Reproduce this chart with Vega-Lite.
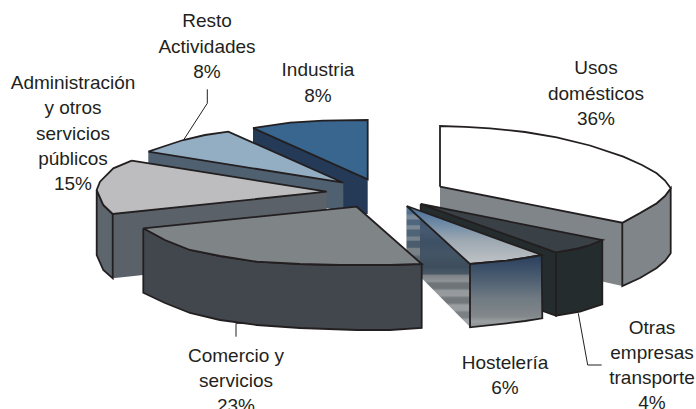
{
"$schema":"https://vega.github.io/schema/vega-lite/v6.json",
"width":696,"height":409,"padding":0,"autosize":{"type":"none"},
"background":"white",
"config":{"view":{"stroke":null}},
"resolve":{"scale":{"fill":"independent","stroke":"independent"}},
"datasets":{
"atras":[
{"f":"usos_frente","i":1,"x":440,"y":186.7},{"f":"usos_frente","i":2,"x":622.3,"y":222.7},{"f":"usos_frente","i":3,"x":622.3,"y":286},{"f":"usos_frente","i":4,"x":600,"y":281},{"f":"usos_frente","i":5,"x":440,"y":250},{"f":"usos_frente","i":6,"x":440,"y":186.7},
{"f":"usos_curva","i":1,"x":622.3,"y":222.7},{"f":"usos_curva","i":2,"x":640,"y":213},{"f":"usos_curva","i":3,"x":656.7,"y":203.3},{"f":"usos_curva","i":4,"x":665,"y":196},{"f":"usos_curva","i":5,"x":670.7,"y":188.3},{"f":"usos_curva","i":6,"x":670.7,"y":253.3},{"f":"usos_curva","i":7,"x":665,"y":261},{"f":"usos_curva","i":8,"x":656.7,"y":268},{"f":"usos_curva","i":9,"x":640,"y":278},{"f":"usos_curva","i":10,"x":622.3,"y":286},{"f":"usos_curva","i":11,"x":622.3,"y":222.7},
{"f":"usos_tapa","i":1,"x":440,"y":186.7},{"f":"usos_tapa","i":2,"x":440,"y":126},{"f":"usos_tapa","i":3,"x":465,"y":126.8},{"f":"usos_tapa","i":4,"x":490,"y":128.3},{"f":"usos_tapa","i":5,"x":525,"y":132},{"f":"usos_tapa","i":6,"x":556.7,"y":137.3},{"f":"usos_tapa","i":7,"x":590,"y":145.5},{"f":"usos_tapa","i":8,"x":623.3,"y":156.7},{"f":"usos_tapa","i":9,"x":642,"y":165},{"f":"usos_tapa","i":10,"x":656.7,"y":173.3},{"f":"usos_tapa","i":11,"x":665,"y":180.5},{"f":"usos_tapa","i":12,"x":670.7,"y":188.3},{"f":"usos_tapa","i":13,"x":665,"y":196},{"f":"usos_tapa","i":14,"x":656.7,"y":203.3},{"f":"usos_tapa","i":15,"x":640,"y":213},{"f":"usos_tapa","i":16,"x":622.3,"y":222.7},{"f":"usos_tapa","i":17,"x":440,"y":186.7},
{"f":"industria_lado","i":1,"x":253,"y":128},{"f":"industria_lado","i":2,"x":367.7,"y":179.3},{"f":"industria_lado","i":3,"x":367.7,"y":214},{"f":"industria_lado","i":4,"x":343,"y":214},{"f":"industria_lado","i":5,"x":253,"y":146},{"f":"industria_lado","i":6,"x":253,"y":128},
{"f":"industria_tapa","i":1,"x":253,"y":128},{"f":"industria_tapa","i":2,"x":290,"y":122.7},{"f":"industria_tapa","i":3,"x":323,"y":120.7},{"f":"industria_tapa","i":4,"x":367.7,"y":120},{"f":"industria_tapa","i":5,"x":367.7,"y":179.3},{"f":"industria_tapa","i":6,"x":253,"y":128},
{"f":"resto_lado","i":1,"x":148.3,"y":151.7},{"f":"resto_lado","i":2,"x":343.3,"y":182.7},{"f":"resto_lado","i":3,"x":343.3,"y":212},{"f":"resto_lado","i":4,"x":148.3,"y":165},{"f":"resto_lado","i":5,"x":148.3,"y":151.7},
{"f":"resto_tapa","i":1,"x":148.3,"y":151.7},{"f":"resto_tapa","i":2,"x":165,"y":146},{"f":"resto_tapa","i":3,"x":183.3,"y":140},{"f":"resto_tapa","i":4,"x":205,"y":135},{"f":"resto_tapa","i":5,"x":228.3,"y":131.7},{"f":"resto_tapa","i":6,"x":343.3,"y":182.7},{"f":"resto_tapa","i":7,"x":148.3,"y":151.7},
{"f":"admin_frente","i":1,"x":112.7,"y":214},{"f":"admin_frente","i":2,"x":326.7,"y":191.7},{"f":"admin_frente","i":3,"x":326.7,"y":215},{"f":"admin_frente","i":4,"x":143,"y":275},{"f":"admin_frente","i":5,"x":112.7,"y":278.3},{"f":"admin_frente","i":6,"x":112.7,"y":214},
{"f":"admin_curva","i":1,"x":112.7,"y":214},{"f":"admin_curva","i":2,"x":103.3,"y":205},{"f":"admin_curva","i":3,"x":96.7,"y":190},{"f":"admin_curva","i":4,"x":96.7,"y":255},{"f":"admin_curva","i":5,"x":103.3,"y":270},{"f":"admin_curva","i":6,"x":112.7,"y":278.3},{"f":"admin_curva","i":7,"x":112.7,"y":214},
{"f":"admin_tapa","i":1,"x":131.7,"y":160.7},{"f":"admin_tapa","i":2,"x":113.3,"y":168.3},{"f":"admin_tapa","i":3,"x":100,"y":181.7},{"f":"admin_tapa","i":4,"x":96.7,"y":190},{"f":"admin_tapa","i":5,"x":103.3,"y":205},{"f":"admin_tapa","i":6,"x":112.7,"y":214},{"f":"admin_tapa","i":7,"x":326.7,"y":191.7},{"f":"admin_tapa","i":8,"x":131.7,"y":160.7},
{"f":"otras_lado","i":1,"x":420.7,"y":204},{"f":"otras_lado","i":2,"x":556,"y":252.3},{"f":"otras_lado","i":3,"x":556,"y":315.7},{"f":"otras_lado","i":4,"x":542.7,"y":311},{"f":"otras_lado","i":5,"x":420.7,"y":230},{"f":"otras_lado","i":6,"x":420.7,"y":204},
{"f":"otras_frente","i":1,"x":556,"y":252.3},{"f":"otras_frente","i":2,"x":580,"y":248.3},{"f":"otras_frente","i":3,"x":602.3,"y":240},{"f":"otras_frente","i":4,"x":602.3,"y":304.3},{"f":"otras_frente","i":5,"x":580,"y":311.7},{"f":"otras_frente","i":6,"x":556,"y":315.7},{"f":"otras_frente","i":7,"x":556,"y":252.3},
{"f":"otras_tapa","i":1,"x":420.7,"y":204},{"f":"otras_tapa","i":2,"x":602.3,"y":240},{"f":"otras_tapa","i":3,"x":590,"y":245},{"f":"otras_tapa","i":4,"x":575,"y":249},{"f":"otras_tapa","i":5,"x":556,"y":252.3},{"f":"otras_tapa","i":6,"x":420.7,"y":204}
],
"hosteleria_lado":[
{"i":1,"x":406.7,"y":206},{"i":2,"x":470,"y":264},{"i":3,"x":470,"y":327},{"i":4,"x":406.7,"y":263},{"i":5,"x":406.7,"y":206}
],
"hosteleria_franja":[
{"i":1,"x":406.7,"y":206},{"i":2,"x":420,"y":218},{"i":3,"x":420,"y":277},{"i":4,"x":406.7,"y":263},{"i":5,"x":406.7,"y":206}
],
"hosteleria_tapa":[
{"i":1,"x":406.7,"y":206},{"i":2,"x":541.7,"y":255},{"i":3,"x":525,"y":258},{"i":4,"x":506.7,"y":260.7},{"i":5,"x":470,"y":264},{"i":6,"x":406.7,"y":206}
],
"hosteleria_frente":[
{"i":1,"x":470,"y":264},{"i":2,"x":506.7,"y":260.7},{"i":3,"x":525,"y":258},{"i":4,"x":541.7,"y":255},{"i":5,"x":542.3,"y":318.3},{"i":6,"x":525,"y":321},{"i":7,"x":506.7,"y":323.3},{"i":8,"x":470,"y":327.3},{"i":9,"x":470,"y":264}
],
"delante":[
{"f":"comercio_lado","i":1,"x":143.3,"y":228.3},{"f":"comercio_lado","i":2,"x":165,"y":240},{"f":"comercio_lado","i":3,"x":190,"y":250},{"f":"comercio_lado","i":4,"x":220,"y":256},{"f":"comercio_lado","i":5,"x":256.7,"y":261.7},{"f":"comercio_lado","i":6,"x":300,"y":264},{"f":"comercio_lado","i":7,"x":340,"y":265},{"f":"comercio_lado","i":8,"x":390,"y":265},{"f":"comercio_lado","i":9,"x":421.7,"y":264},{"f":"comercio_lado","i":10,"x":421.7,"y":328},{"f":"comercio_lado","i":11,"x":390,"y":330},{"f":"comercio_lado","i":12,"x":356.7,"y":330},{"f":"comercio_lado","i":13,"x":300,"y":328},{"f":"comercio_lado","i":14,"x":256.7,"y":325},{"f":"comercio_lado","i":15,"x":220,"y":320},{"f":"comercio_lado","i":16,"x":190,"y":313},{"f":"comercio_lado","i":17,"x":165,"y":303},{"f":"comercio_lado","i":18,"x":143.3,"y":292.7},{"f":"comercio_lado","i":19,"x":143.3,"y":228.3},
{"f":"comercio_tapa","i":1,"x":143.3,"y":228.3},{"f":"comercio_tapa","i":2,"x":356.7,"y":206.7},{"f":"comercio_tapa","i":3,"x":421.7,"y":264},{"f":"comercio_tapa","i":4,"x":390,"y":265},{"f":"comercio_tapa","i":5,"x":340,"y":265},{"f":"comercio_tapa","i":6,"x":300,"y":264},{"f":"comercio_tapa","i":7,"x":256.7,"y":261.7},{"f":"comercio_tapa","i":8,"x":220,"y":256},{"f":"comercio_tapa","i":9,"x":190,"y":250},{"f":"comercio_tapa","i":10,"x":165,"y":240},{"f":"comercio_tapa","i":11,"x":143.3,"y":228.3}
],
"guias":[
{"g":"resto","i":1,"x":207.3,"y":89.3},{"g":"resto","i":2,"x":207.3,"y":103.3},{"g":"resto","i":3,"x":184,"y":139.3},
{"g":"comercio","i":1,"x":236,"y":336.7},{"g":"comercio","i":2,"x":236,"y":323.3},{"g":"comercio","i":3,"x":246,"y":323.3},
{"g":"otras","i":1,"x":578.3,"y":313.3},{"g":"otras","i":2,"x":587.7,"y":365},{"g":"otras","i":3,"x":601.7,"y":365}
],
"textos":[
{"t":"Resto","x":207,"y":21},{"t":"Actividades","x":207,"y":47},{"t":"8%","x":207,"y":72},
{"t":"Industria","x":318,"y":70},{"t":"8%","x":318,"y":96},
{"t":"Administración","x":73,"y":83},{"t":"y otros","x":73,"y":108},{"t":"servicios","x":73,"y":134},{"t":"públicos","x":73,"y":159},{"t":"15%","x":73,"y":184},
{"t":"Usos","x":596,"y":68},{"t":"domésticos","x":596,"y":94},{"t":"36%","x":596,"y":119},
{"t":"Comercio y","x":236,"y":356},{"t":"servicios","x":236,"y":381},{"t":"23%","x":236,"y":406},
{"t":"Hostelería","x":505,"y":363},{"t":"6%","x":505,"y":388},
{"t":"Otras","x":652,"y":328},{"t":"empresas","x":652,"y":353},{"t":"transporte","x":652,"y":378},{"t":"4%","x":652,"y":403}
]
},
"encoding":{
"x":{"field":"x","type":"quantitative","axis":null,"scale":{"domain":[0,696]}},
"y":{"field":"y","type":"quantitative","axis":null,"scale":{"domain":[409,0]}}
},
"layer":[
{"data":{"name":"atras"},
"mark":{"type":"line","strokeWidth":1.8,"strokeJoin":"miter"},
"encoding":{
"order":{"field":"i","type":"quantitative"},
"detail":{"field":"f"},
"fill":{"field":"f","type":"nominal","legend":null,"sort":null,"scale":{
"domain":["usos_frente","usos_curva","usos_tapa","industria_lado","industria_tapa","resto_lado","resto_tapa","admin_frente","admin_curva","admin_tapa","otras_lado","otras_frente","otras_tapa"],
"range":["#7f8589","#7f8589","#ffffff","#243a56","#38668f","#4f6070","#93aec3","#5a6168","#5e666d","#bdbdbf","#252c2d","#252c2d","#3a4146"]}},
"stroke":{"field":"f","type":"nominal","legend":null,"sort":null,"scale":{
"domain":["usos_frente","usos_curva","usos_tapa","industria_lado","industria_tapa","resto_lado","resto_tapa","admin_frente","admin_curva","admin_tapa","otras_lado","otras_frente","otras_tapa"],
"range":["transparent","#231f20","#231f20","transparent","#231f20","transparent","#231f20","transparent","#231f20","#231f20","#231f20","#231f20","#231f20"]}}
}},
{"data":{"name":"hosteleria_lado"},
"mark":{"type":"line","stroke":null,"fill":{"gradient":"linear","x1":0,"y1":0,"x2":0,"y2":1,"stops":[
{"offset":0,"color":"#4d7299"},{"offset":0.08,"color":"#4a6a8c"},{"offset":0.1,"color":"#3f5670"},{"offset":0.2,"color":"#46596f"},{"offset":0.3,"color":"#3e5064"},{"offset":0.4,"color":"#435565"},{"offset":0.5,"color":"#3e4d5c"},{"offset":0.56,"color":"#4a5865"},{"offset":0.575,"color":"#7d8387"},{"offset":0.62,"color":"#8f9498"},{"offset":0.64,"color":"#6e7478"},{"offset":0.68,"color":"#6e7478"},{"offset":0.7,"color":"#969a9d"},{"offset":0.74,"color":"#969a9d"},{"offset":0.76,"color":"#72787c"},{"offset":0.8,"color":"#72787c"},{"offset":0.82,"color":"#9a9ea1"},{"offset":0.86,"color":"#9a9ea1"},{"offset":0.88,"color":"#7b8084"},{"offset":0.92,"color":"#7b8084"},{"offset":0.94,"color":"#a0a4a6"},{"offset":1,"color":"#a0a4a6"}]}},
"encoding":{"order":{"field":"i","type":"quantitative"}}},
{"data":{"name":"hosteleria_franja"},
"mark":{"type":"line","stroke":null,"fill":{"gradient":"linear","x1":0,"y1":0,"x2":0,"y2":1,"stops":[
{"offset":0,"color":"#5f86ab"},{"offset":0.1,"color":"#4e6d8d"},{"offset":0.14,"color":"#7b8a98"},{"offset":0.18,"color":"#7b8a98"},{"offset":0.2,"color":"#4f667e"},{"offset":0.26,"color":"#4f667e"},{"offset":0.28,"color":"#7a8894"},{"offset":0.32,"color":"#7a8894"},{"offset":0.34,"color":"#506478"},{"offset":0.42,"color":"#506478"},{"offset":0.44,"color":"#76828c"},{"offset":0.48,"color":"#76828c"},{"offset":0.5,"color":"#4a5c6d"},{"offset":0.58,"color":"#4a5c6d"},{"offset":0.6,"color":"#7a8288"},{"offset":0.68,"color":"#7a8288"},{"offset":0.72,"color":"#5c666f"},{"offset":0.8,"color":"#5c666f"},{"offset":0.84,"color":"#9a9ea1"},{"offset":1,"color":"#9a9ea1"}]}},
"encoding":{"order":{"field":"i","type":"quantitative"}}},
{"data":{"name":"hosteleria_tapa"},
"mark":{"type":"line","stroke":"#231f20","strokeWidth":1.8,"fill":{"gradient":"linear","x1":0,"y1":0,"x2":0,"y2":1,"stops":[
{"offset":0,"color":"#456d97"},{"offset":0.3,"color":"#6e8aa6"},{"offset":0.6,"color":"#9ea9b2"},{"offset":1,"color":"#bfc3c6"}]}},
"encoding":{"order":{"field":"i","type":"quantitative"}}},
{"data":{"name":"hosteleria_frente"},
"mark":{"type":"line","stroke":"#231f20","strokeWidth":1.8,"fill":{"gradient":"linear","x1":0,"y1":0,"x2":0,"y2":1,"stops":[
{"offset":0,"color":"#2a3f5e"},{"offset":0.25,"color":"#43566c"},{"offset":0.6,"color":"#6f7a82"},{"offset":0.85,"color":"#83888b"},{"offset":0.92,"color":"#9a9fa2"},{"offset":1,"color":"#8a8f92"}]}},
"encoding":{"order":{"field":"i","type":"quantitative"}}},
{"data":{"name":"delante"},
"mark":{"type":"line","stroke":"#231f20","strokeWidth":1.8},
"encoding":{
"order":{"field":"i","type":"quantitative"},
"detail":{"field":"f"},
"fill":{"field":"f","type":"nominal","legend":null,"sort":null,"scale":{"domain":["comercio_lado","comercio_tapa"],"range":["#42474e","#7f8487"]}}
}},
{"data":{"name":"guias"},
"mark":{"type":"line","stroke":"#231f20","strokeWidth":1},
"encoding":{"order":{"field":"i","type":"quantitative"},"detail":{"field":"g"}}},
{"data":{"name":"textos"},
"mark":{"type":"text","font":"Liberation Sans","fontSize":19,"fill":"#231f20","align":"center","baseline":"middle"},
"encoding":{"text":{"field":"t"}}}
]
}
